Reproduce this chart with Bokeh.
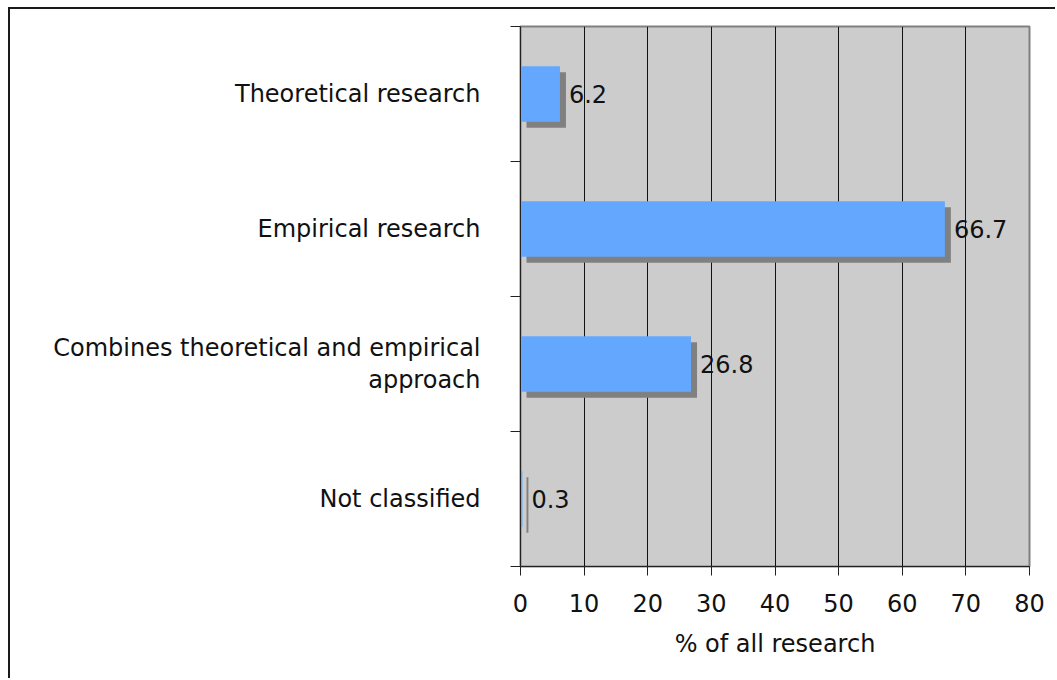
from bokeh.plotting import figure
from bokeh.models import Range1d, FixedTicker, LinearAxis, Grid, ColumnDataSource
from bokeh.core.properties import value
from bokeh.embed import file_html
from bokeh.resources import INLINE

# --- data -------------------------------------------------------------
categories = [
    "Theoretical research",
    "Empirical research",
    "Combines theoretical and empirical\napproach",
    "Not classified",
]
shares = [6.2, 66.7, 26.8, 0.3]
x_ticks = [0, 10, 20, 30, 40, 50, 60, 70, 80]
x_title = "% of all research"

# --- style ------------------------------------------------------------
FONT = "DejaVu Sans"
FS = "24px"
BAR = "#63a8fe"
SHADOW = "#808080"
INK = "#111111"
BAR_H = 0.41
PX_PER_UNIT = 509 / 80.0      # horizontal scale of the frame
PX_PER_BAND = 540 / 4.0       # vertical scale of the frame
SHADOW_PX = 6

# chart sits inside a black frame offset from the page corner
OFF_X, OFF_Y, EDGE = 8, 7, 2
W, H = 1057 - OFF_X - EDGE, 680 - OFF_Y - EDGE

pos = [i + 0.5 for i in range(len(categories))]
bounds = list(range(len(categories) + 1))
dx = SHADOW_PX / PX_PER_UNIT
dy = SHADOW_PX / PX_PER_BAND

bars = ColumnDataSource(dict(
    y=pos, right=shares, left=[0] * len(shares),
    sy=[p + dy for p in pos], sright=[v + dx for v in shares], sleft=[dx] * len(shares),
    lbl=[f"{v:.1f}" for v in shares],
))

p = figure(width=W, height=H, output_backend="svg", toolbar_location=None,
           x_range=Range1d(0, 80), y_range=Range1d(4, 0),
           min_border_left=520 - OFF_X - EDGE, min_border_right=28,
           min_border_top=26 - OFF_Y - EDGE, min_border_bottom=114,
           x_axis_type=None, y_axis_type=None,
           styles={"margin-left": f"{OFF_X}px", "margin-top": f"{OFF_Y}px",
                   "border-left": f"{EDGE}px solid #1a1a1a",
                   "border-top": f"{EDGE}px solid #1a1a1a"})
p.background_fill_color = "#cccccc"
p.border_fill_color = "white"
p.outline_line_color = "#808080"
p.outline_line_width = 2

# x axis
xa = LinearAxis(ticker=FixedTicker(ticks=x_ticks))
xa.axis_line_color = "#222222"
xa.major_tick_line_color = "#222222"
xa.major_tick_out = 9
xa.major_tick_in = 0
xa.minor_tick_line_color = None
xa.major_label_text_font = FONT
xa.major_label_text_font_size = FS
xa.major_label_text_color = INK
xa.major_label_standoff = 18
xa.axis_label = x_title
xa.axis_label_text_font = FONT
xa.axis_label_text_font_size = FS
xa.axis_label_text_font_style = "normal"
xa.axis_label_text_color = INK
xa.axis_label_standoff = 15
p.add_layout(xa, "below")

# y axis: names at band centres, tick marks on band boundaries
ya = LinearAxis(ticker=FixedTicker(ticks=pos, minor_ticks=bounds))
ya.major_label_overrides = {v: name for v, name in zip(pos, categories)}
ya.axis_line_color = "#222222"
ya.major_tick_line_color = None
ya.major_tick_out = 0
ya.major_tick_in = 0
ya.minor_tick_line_color = "#222222"
ya.minor_tick_out = 10
ya.minor_tick_in = 0
ya.major_label_text_font = FONT
ya.major_label_text_font_size = FS
ya.major_label_text_color = INK
ya.major_label_standoff = 30
ya.major_label_text_line_height = 1.12
p.add_layout(ya, "left")

# vertical grid
p.add_layout(Grid(dimension=0, ticker=FixedTicker(ticks=x_ticks[1:-1]),
                  grid_line_color=INK, grid_line_width=1))

# bars with drop shadow
p.hbar(y="sy", left="sleft", right="sright", height=BAR_H, source=bars,
       fill_color=SHADOW, line_color=None)
p.hbar(y="y", left="left", right="right", height=BAR_H, source=bars,
       fill_color=BAR, line_color=None)

# value labels
p.text(x="right", y="y", text="lbl", source=bars, x_offset=9,
       text_baseline="middle", text_align="left",
       text_font=value(FONT), text_font_size=FS, text_color=INK)

open("out.html", "w").write(file_html(p, INLINE))
